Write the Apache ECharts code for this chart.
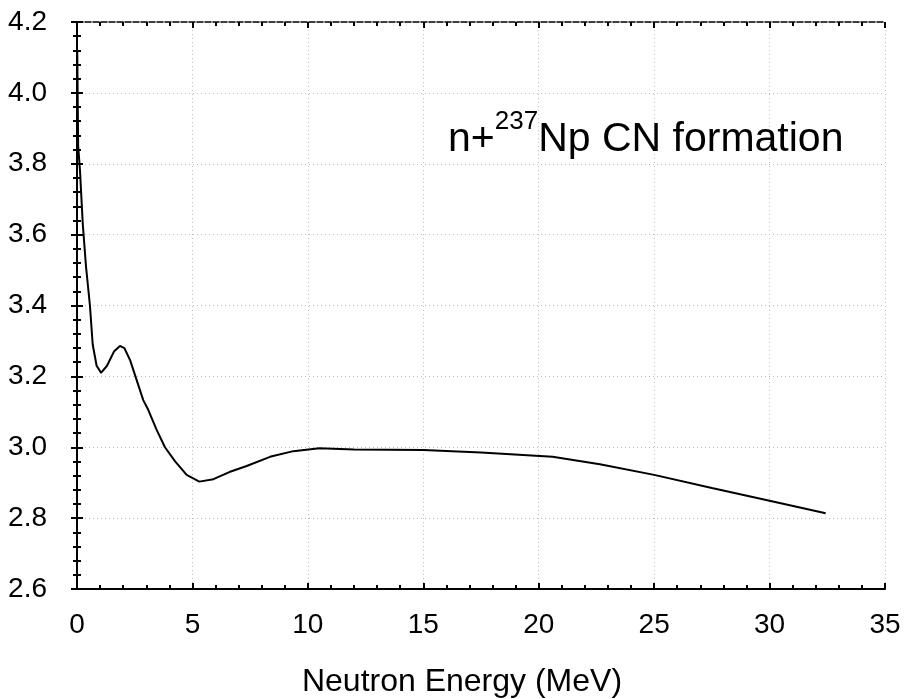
<!DOCTYPE html>
<html><head><meta charset="utf-8">
<script src="https://cdn.jsdelivr.net/npm/echarts@6/dist/echarts.min.js"></script>
<style>html,body{margin:0;padding:0;background:#fff}#c{width:913px;height:699px}</style>
</head><body><div id="c"></div>
<script>
// Neutron energy (MeV)
const energy = [0.01, 0.05, 0.13, 0.25, 0.39, 0.56, 0.68, 0.85, 1.04, 1.3, 1.6, 1.86, 2.05, 2.3, 2.87, 3.09, 3.45, 3.81, 4.25, 4.75, 5.3, 5.91, 6.6, 7.35, 8.36, 9.37, 10.5, 12, 15, 17.5, 20.6, 22.65, 25, 27.5, 30, 32.43];
// CN formation values
const values = [4.12, 3.85, 3.78, 3.63, 3.51, 3.40, 3.29, 3.23, 3.21, 3.23, 3.27, 3.286, 3.28, 3.246, 3.133, 3.105, 3.049, 3.00, 2.96, 2.922, 2.903, 2.910, 2.93, 2.947, 2.973, 2.989, 2.997, 2.994, 2.992, 2.985, 2.973, 2.952, 2.922, 2.885, 2.849, 2.814];
const xTickValues = [0, 5, 10, 15, 20, 25, 30, 35];
const yTickValues = [2.6, 2.8, 3.0, 3.2, 3.4, 3.6, 3.8, 4.0, 4.2];
const xTitle = 'Neutron Energy (MeV)';
const noteParts = ['n+', '237', 'Np CN formation'];

const FONT = '"Liberation Sans", Arial, sans-serif';
const chart = echarts.init(document.getElementById('c'), null, {renderer: 'canvas'});

function axisCommon(showLabels, isX) {
  return {
    type: 'value',
    axisLine: {show: true, lineStyle: {color: '#000', width: 2}},
    axisTick: {show: true, inside: true, length: 6, lineStyle: {color: '#000', width: 2}},
    minorTick: {show: true, splitNumber: 5, length: 4, lineStyle: {color: '#000', width: 2}},
    splitLine: {show: showLabels, lineStyle: {color: '#bcbcbc', width: 1, type: [1, 3]}},
    axisLabel: showLabels ? {
      show: true, color: '#000', fontSize: 28, fontFamily: FONT,
      margin: isX ? 22 : 30,
      formatter: isX ? (v => String(v)) : (v => v.toFixed(1))
    } : {show: false}
  };
}

const data = energy.map((e, i) => [e, values[i]]);

const topAxis = Object.assign(axisCommon(false, true), {
  position: 'top', min: xTickValues[0], max: xTickValues[xTickValues.length - 1], interval: 5
});
topAxis.axisLine = {show: true, lineStyle: {color: '#000', width: 1.5, type: [6, 2]}};

const option = {
  animation: false,
  backgroundColor: '#fff',
  grid: {left: 77, right: 28, top: 22, bottom: 110, containLabel: false, outerBoundsMode: 'none'},
  xAxis: [
    Object.assign(axisCommon(true, true), {
      position: 'bottom', min: xTickValues[0], max: xTickValues[xTickValues.length - 1], interval: 5,
      name: xTitle, nameLocation: 'middle', nameGap: 77,
      nameTextStyle: {color: '#000', fontSize: 32, fontFamily: FONT, padding: [0, 38, 0, 0]}
    }),
    topAxis
  ],
  yAxis: [
    Object.assign(axisCommon(true, false), {
      position: 'left', min: yTickValues[0], max: yTickValues[yTickValues.length - 1], interval: 0.2
    }),
    Object.assign(axisCommon(false, false), {
      position: 'right', min: yTickValues[0], max: yTickValues[yTickValues.length - 1], interval: 0.2
    })
  ],
  series: [{
    type: 'line', data: data, showSymbol: false, symbol: 'none',
    lineStyle: {color: '#000', width: 2}, smooth: false, clip: true, z: 3
  }]
};
chart.setOption(option);

// annotation with superscript
const ctx = document.createElement('canvas').getContext('2d');
function w(txt, size) { ctx.font = size + 'px ' + FONT; return ctx.measureText(txt).width; }
const mainSize = 41, supSize = 26;
const x0 = 448, base = 152;
const w0 = w(noteParts[0], mainSize), w1 = w(noteParts[1], supSize);
const mainBottom = base + 0.21 * mainSize;
const supBottom = base - 23 + 0.21 * supSize;
chart.setOption({
  graphic: [
    {type: 'text', x: x0, y: mainBottom, style: {text: noteParts[0], font: mainSize + 'px ' + FONT, fill: '#000', verticalAlign: 'bottom', align: 'left'}},
    {type: 'text', x: x0 + w0, y: supBottom, style: {text: noteParts[1], font: supSize + 'px ' + FONT, fill: '#000', verticalAlign: 'bottom', align: 'left'}},
    {type: 'text', x: x0 + w0 + w1, y: mainBottom, style: {text: noteParts[2], font: mainSize + 'px ' + FONT, fill: '#000', verticalAlign: 'bottom', align: 'left'}}
  ]
});
</script></body></html>
